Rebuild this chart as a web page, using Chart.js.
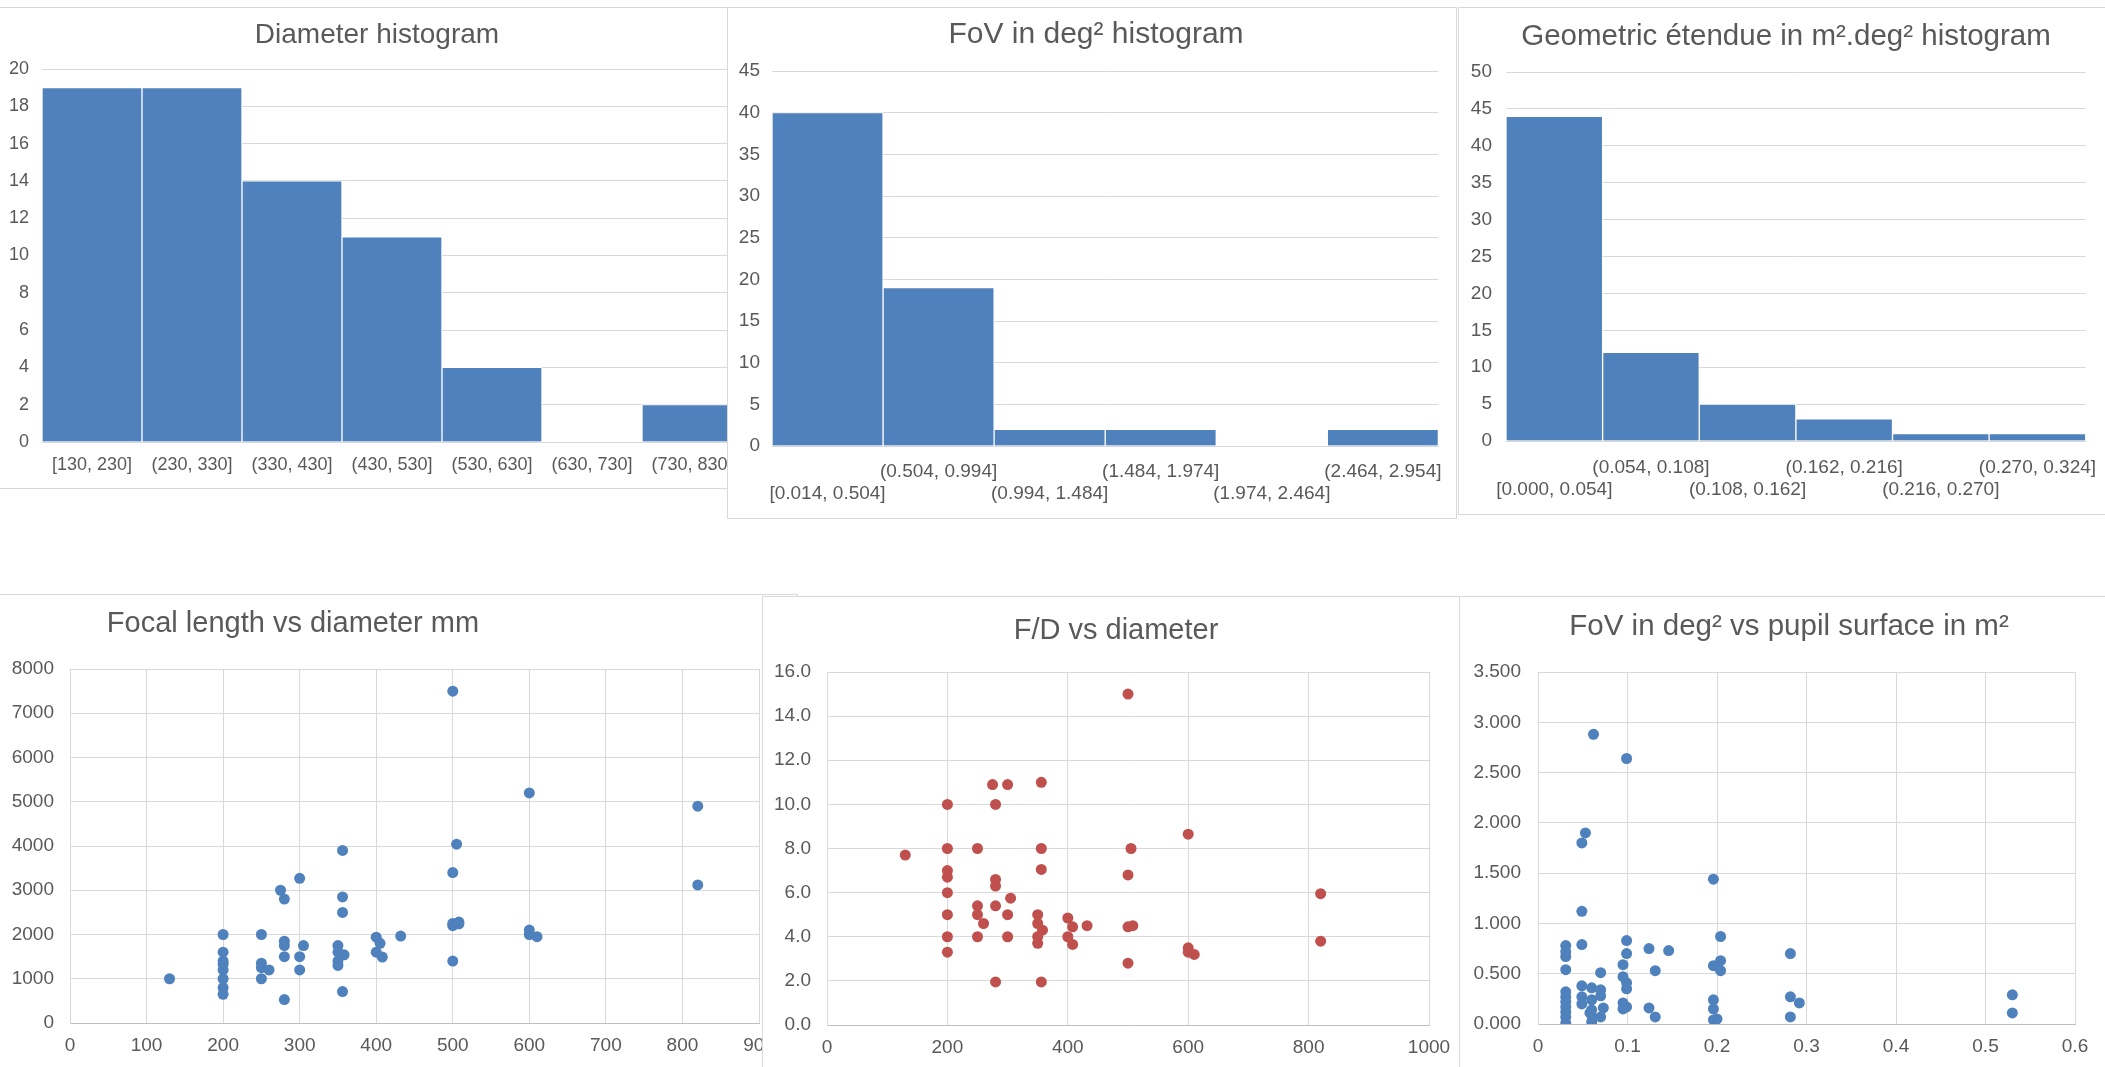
<!DOCTYPE html>
<html>
<head>
<meta charset="utf-8">
<title>Telescope statistics</title>
<script src="https://cdn.jsdelivr.net/npm/chart.js@4.4.0/dist/chart.umd.min.js"></script>
<style>
  html, body { margin: 0; padding: 0; background: #fff; }
  body { width: 2105px; height: 1067px; overflow: hidden; position: relative; }
  .panel { position: absolute; background: #fff; border: 1px solid #d9d9d9; overflow: hidden; }
  .panel canvas { position: absolute; left: 0; top: 0; }
</style>
</head>
<body>
<script>
// Histogram bins and counts
const diameterBins = ["[130, 230]", "(230, 330]", "(330, 430]", "(430, 530]", "(530, 630]", "(630, 730]", "(730, 830]"];
const diameterCounts = [19, 19, 14, 11, 4, 0, 2];

const fovBins = ["[0.014, 0.504]", "(0.504, 0.994]", "(0.994, 1.484]", "(1.484, 1.974]", "(1.974, 2.464]", "(2.464, 2.954]"];
const fovCounts = [40, 19, 2, 2, 0, 2];

const etendueBins = ["[0.000, 0.054]", "(0.054, 0.108]", "(0.108, 0.162]", "(0.162, 0.216]", "(0.216, 0.270]", "(0.270, 0.324]"];
const etendueCounts = [44, 12, 5, 3, 1, 1];

// Focal length (mm) vs diameter (mm)
const focalDiameter = [130, 200, 200, 200, 200, 200, 200, 200, 200, 250, 250, 250, 250, 260,
  275, 280, 280, 280, 280, 280, 300, 300, 300, 305, 356, 356, 356, 350, 350, 358, 350, 350, 356,
  400, 405, 400, 408, 432, 500, 505, 500, 500, 500, 508, 508, 500, 600, 600, 600, 610, 820, 820];
const focalLength = [1000, 2000, 1600, 1400, 1330, 1200, 1000, 800, 650, 2000, 1350, 1250, 1000, 1200,
  3000, 2800, 1850, 1750, 1500, 530, 3270, 1500, 1200, 1750, 3900, 2850, 2500, 1750, 1600, 1540, 1400, 1300, 710,
  1940, 1800, 1600, 1490, 1965, 7500, 4040, 3400, 2200, 2250, 2280, 2240, 1400, 5200, 2100, 2000, 1950, 4900, 3120];

// F/D vs diameter (mm)
const ratioDiameter = [130, 200, 200, 200, 200, 200, 200, 200, 200, 250, 250, 250, 250, 260,
  275, 280, 280, 280, 280, 280, 300, 300, 300, 305, 356, 356, 356, 350, 350, 358, 350, 350, 356,
  400, 408, 400, 408, 432, 500, 505, 500, 500, 508, 500, 600, 600, 600, 610, 820, 820];
const focalRatio = [7.7, 10.0, 8.0, 7.0, 6.7, 6.0, 5.0, 4.0, 3.3, 8.0, 5.4, 5.0, 4.0, 4.6,
  10.9, 10.0, 6.6, 6.3, 5.4, 1.95, 10.9, 5.0, 4.0, 5.75, 11.0, 8.0, 7.05, 5.0, 4.6, 4.3, 4.0, 3.7, 1.95,
  4.85, 4.45, 4.0, 3.65, 4.5, 15.0, 8.0, 6.8, 4.45, 4.5, 2.8, 8.65, 3.5, 3.3, 3.2, 5.95, 3.8];

// FoV (deg²) vs pupil surface (m²)
const pupilSurface = [0.031, 0.031, 0.031, 0.031, 0.031, 0.031, 0.031, 0.031, 0.031, 0.031, 0.031,
  0.049, 0.049, 0.049, 0.049, 0.049, 0.049, 0.053, 0.060, 0.060, 0.060, 0.060, 0.058, 0.061, 0.062,
  0.070, 0.070, 0.070, 0.070, 0.073, 0.099, 0.099, 0.099, 0.099, 0.099, 0.099, 0.095, 0.095, 0.095, 0.095,
  0.124, 0.124, 0.131, 0.131, 0.146, 0.196, 0.196, 0.196, 0.196, 0.196, 0.204, 0.204, 0.204, 0.200,
  0.282, 0.282, 0.282, 0.292, 0.530, 0.530];
const fovDeg2 = [0.78, 0.72, 0.67, 0.54, 0.32, 0.27, 0.22, 0.17, 0.12, 0.07, 0.01,
  1.80, 1.12, 0.79, 0.38, 0.27, 0.20, 1.90, 0.36, 0.24, 0.14, 0.02, 0.11, 0.06, 2.88,
  0.51, 0.34, 0.28, 0.07, 0.16, 2.64, 0.83, 0.70, 0.41, 0.35, 0.17, 0.59, 0.47, 0.21, 0.15,
  0.75, 0.16, 0.53, 0.07, 0.73, 1.44, 0.58, 0.24, 0.15, 0.04, 0.87, 0.63, 0.53, 0.05,
  0.70, 0.27, 0.07, 0.21, 0.29, 0.11];

const BLUE = "#4f81bd";
const RED = "#c0504d";
const TEXT = "#595959";
const GRID = "#d9d9d9";
const AXIS = "#bfbfbf";
const FONT = '"Liberation Sans", Arial, sans-serif';

Chart.defaults.font.family = FONT;
Chart.defaults.color = TEXT;

// Excel places the chart title freely, so draw it at a given spot instead of the built-in title box
const placedTitle = {
  id: "placedTitle",
  afterDraw(chart, args, opts) {
    const ctx = chart.ctx;
    ctx.save();
    ctx.font = opts.size + "px " + FONT;
    ctx.fillStyle = TEXT;
    ctx.textAlign = "center";
    ctx.textBaseline = "middle";
    ctx.fillText(opts.text, opts.x, opts.y);
    ctx.restore();
  },
};

// Build a bordered panel and work out the paddings that put the plot area where it sits in the picture
function makePanel(g) {
  const div = document.createElement("div");
  div.className = "panel";
  div.style.left = g.x + "px";
  div.style.top = g.y + "px";
  div.style.width = g.w + "px";
  div.style.height = g.h + "px";
  div.style.zIndex = g.z;
  const canvas = document.createElement("canvas");
  canvas.width = g.w;
  canvas.height = g.h;
  canvas.style.width = g.w + "px";
  canvas.style.height = g.h + "px";
  div.appendChild(canvas);
  document.body.appendChild(div);

  const ox = g.x + 1, oy = g.y + 1;
  return {
    ctx: canvas.getContext("2d"),
    title: { x: g.titleX - ox, y: g.titleY - oy, size: g.titleSize },
    padTop: g.plot.t - oy,
    yWidth: g.plot.l - ox,
    xHeight: oy + g.h - g.plot.b,
    padRight: ox + g.w - g.plot.r,
    yPad: g.yPad,
    xPad: g.xPad,
    tick: g.tick,
  };
}

function titleOptions(panel, text) {
  return { text: text, x: panel.title.x, y: panel.title.y, size: panel.title.size };
}

function histogram(panel, title, labels, counts, yMax, step) {
  return new Chart(panel.ctx, {
    type: "bar",
    data: {
      labels: labels,
      datasets: [
        {
          data: counts,
          backgroundColor: BLUE,
          borderColor: "#ffffff",
          borderWidth: 1,
          barPercentage: 1,
          categoryPercentage: 1,
        },
      ],
    },
    options: {
      responsive: false,
      animation: false,
      layout: { padding: { left: 0, right: panel.padRight, top: panel.padTop, bottom: 0 } },
      plugins: {
        legend: { display: false },
        tooltip: { enabled: false },
        placedTitle: titleOptions(panel, title),
      },
      scales: {
        x: {
          grid: { display: false, drawTicks: false },
          border: { color: GRID },
          ticks: {
            autoSkip: false,
            maxRotation: 0,
            minRotation: 0,
            padding: panel.xPad,
            font: { size: panel.tick, lineHeight: 1.2 },
          },
          afterFit: (s) => { s.height = panel.xHeight; },
        },
        y: {
          min: 0,
          max: yMax,
          grid: { color: GRID, drawTicks: false },
          border: { display: false },
          ticks: { stepSize: step, padding: panel.yPad, font: { size: panel.tick } },
          afterFit: (s) => { s.width = panel.yWidth; },
        },
      },
    },
    plugins: [placedTitle],
  });
}

function scatter(panel, title, xs, ys, color, xAxis, yAxis) {
  return new Chart(panel.ctx, {
    type: "scatter",
    data: {
      datasets: [
        {
          data: xs.map((x, i) => ({ x: x, y: ys[i] })),
          backgroundColor: color,
          borderColor: color,
          borderWidth: 0,
          pointRadius: 5.5,
          pointHoverRadius: 5.5,
        },
      ],
    },
    options: {
      responsive: false,
      animation: false,
      layout: { padding: { left: 0, right: panel.padRight, top: panel.padTop, bottom: 0 } },
      plugins: {
        legend: { display: false },
        tooltip: { enabled: false },
        placedTitle: titleOptions(panel, title),
      },
      scales: {
        x: {
          type: "linear",
          min: xAxis.min,
          max: xAxis.max,
          grid: { color: GRID, drawTicks: false },
          border: { color: AXIS },
          ticks: {
            stepSize: xAxis.step,
            padding: panel.xPad,
            maxRotation: 0,
            font: { size: panel.tick },
            callback: xAxis.format,
          },
          afterFit: (s) => { s.height = panel.xHeight; },
        },
        y: {
          min: yAxis.min,
          max: yAxis.max,
          grid: { color: GRID, drawTicks: false },
          border: { color: GRID },
          ticks: {
            stepSize: yAxis.step,
            padding: panel.yPad,
            font: { size: panel.tick },
            callback: yAxis.format,
          },
          afterFit: (s) => { s.width = panel.yWidth; },
        },
      },
    },
    plugins: [placedTitle],
  });
}

// Staggered labels, like Excel does when they do not fit on one row
function stagger(bins) {
  return bins.map((b, i) => (i % 2 ? [b, ""] : ["", b]));
}

const p1 = makePanel({ x: -1, y: 7, w: 756, h: 480, z: 1, titleX: 377, titleY: 35, titleSize: 28,
  plot: { l: 42, t: 69, r: 742, b: 442 }, yPad: 13, xPad: 12, tick: 18 });
const p2 = makePanel({ x: 727, y: 7, w: 728, h: 510, z: 2, titleX: 1096, titleY: 35, titleSize: 30,
  plot: { l: 772, t: 71, r: 1450, b: 446 }, yPad: 12, xPad: 14, tick: 19 });
const p3 = makePanel({ x: 1458, y: 7, w: 654, h: 506, z: 3, titleX: 1786, titleY: 37, titleSize: 29.5,
  plot: { l: 1506, t: 72, r: 2090, b: 441 }, yPad: 14, xPad: 15, tick: 19 });
const p4 = makePanel({ x: -211, y: 594, w: 1007, h: 480, z: 1, titleX: 293, titleY: 624, titleSize: 29,
  plot: { l: 70, t: 669, r: 759, b: 1023 }, yPad: 16, xPad: 11, tick: 19 });
const p5 = makePanel({ x: 762, y: 596, w: 707, h: 480, z: 2, titleX: 1116, titleY: 631, titleSize: 29,
  plot: { l: 827, t: 672, r: 1429, b: 1025 }, yPad: 16, xPad: 11, tick: 19 });
const p6 = makePanel({ x: 1459, y: 596, w: 660, h: 480, z: 3, titleX: 1789, titleY: 627, titleSize: 29.5,
  plot: { l: 1538, t: 672, r: 2075, b: 1024 }, yPad: 17, xPad: 11, tick: 19 });

histogram(p1, "Diameter histogram", diameterBins, diameterCounts, 20, 2);
histogram(p2, "FoV in deg² histogram", stagger(fovBins), fovCounts, 45, 5);
histogram(p3, "Geometric étendue in m².deg² histogram", stagger(etendueBins), etendueCounts, 50, 5);

scatter(p4, "Focal length vs diameter mm", focalDiameter, focalLength, BLUE,
  { min: 0, max: 900, step: 100, format: (v) => String(v) },
  { min: 0, max: 8000, step: 1000, format: (v) => String(v) });
scatter(p5, "F/D vs diameter", ratioDiameter, focalRatio, RED,
  { min: 0, max: 1000, step: 200, format: (v) => String(v) },
  { min: 0, max: 16, step: 2, format: (v) => v.toFixed(1) });
scatter(p6, "FoV in deg² vs pupil surface in m²", pupilSurface, fovDeg2, BLUE,
  { min: 0, max: 0.6, step: 0.1, format: (v) => (v === 0 ? "0" : v.toFixed(1)) },
  { min: 0, max: 3.5, step: 0.5, format: (v) => v.toFixed(3) });
</script>
</body>
</html>
